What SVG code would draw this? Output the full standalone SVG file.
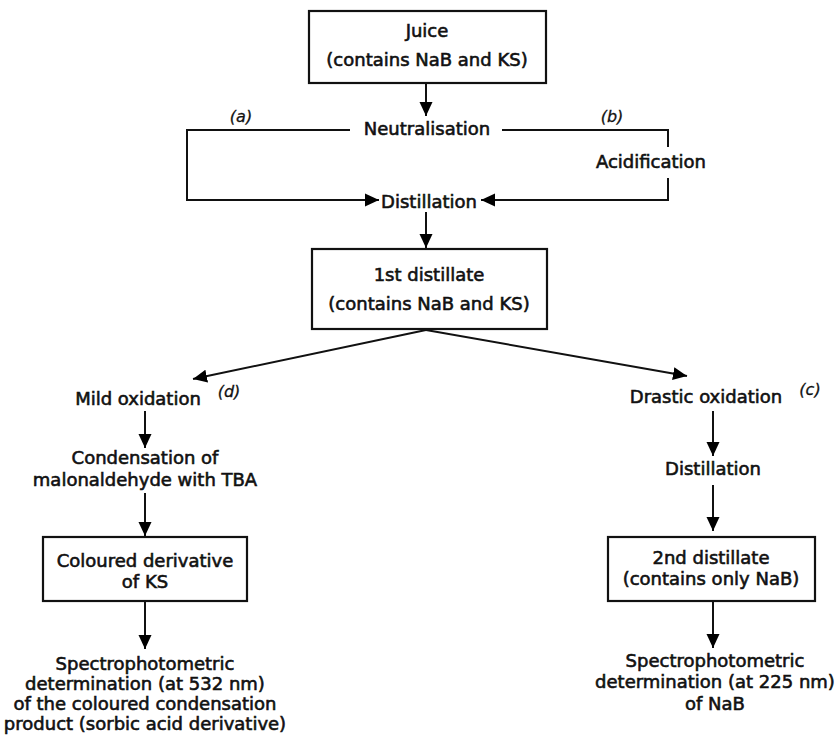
<svg xmlns="http://www.w3.org/2000/svg" width="835" height="735" viewBox="0 0 835 735">
<defs>
<marker id="ah" markerUnits="userSpaceOnUse" markerWidth="16" markerHeight="14" refX="14" refY="7" orient="auto">
<path d="M0,0.5 L14,7 L0,13.5 Z" fill="#000"/>
</marker>
<style>
.t{font-family:"DejaVu Sans",sans-serif;font-size:18px;fill:#111;stroke:#111;stroke-width:0.6;text-anchor:middle}
.lab{font-family:"DejaVu Sans",sans-serif;font-size:16px;font-style:italic;fill:#111;stroke:#111;stroke-width:0.3;text-anchor:middle}
.box{fill:#fff;stroke:#111;stroke-width:2.2}
.c{fill:none;stroke:#111;stroke-width:2}
.a{fill:none;stroke:#111;stroke-width:2;marker-end:url(#ah)}
</style>
</defs>
<rect width="835" height="735" fill="#fff"/>
<g id="connectors">
<line class="a" x1="426" y1="83" x2="426" y2="116"/>
<path class="a" d="M350,130 H187 V200 H379"/>
<path class="c" d="M502,130 H668 V147"/>
<path class="a" d="M668,178 V200 H481"/>
<line class="a" x1="426" y1="212" x2="426" y2="248"/>
<line class="a" x1="426" y1="330" x2="193" y2="379"/>
<line class="a" x1="426" y1="330" x2="687" y2="376"/>
<line class="a" x1="145" y1="411" x2="145" y2="448"/>
<line class="a" x1="145" y1="493" x2="145" y2="536"/>
<line class="a" x1="145" y1="601" x2="145" y2="649"/>
<line class="a" x1="713" y1="411" x2="713" y2="456"/>
<line class="a" x1="713" y1="485" x2="713" y2="531"/>
<line class="a" x1="713" y1="601" x2="713" y2="648"/>
</g>
<g id="juice">
<rect class="box" x="309" y="11" width="237" height="72"/>
<text class="t" x="427" y="37">Juice</text>
<text class="t" x="427" y="66">(contains NaB and KS)</text>
</g>
<g id="neutralisation"><text class="t" x="427" y="135">Neutralisation</text></g>
<g id="label-a"><text class="lab" x="241" y="122">(a)</text></g>
<g id="label-b"><text class="lab" x="612" y="122">(b)</text></g>
<g id="acidification"><text class="t" x="651" y="168">Acidification</text></g>
<g id="distillation1"><text class="t" x="429" y="208">Distillation</text></g>
<g id="first-distillate">
<rect class="box" x="312" y="249" width="235" height="80"/>
<text class="t" x="429" y="281">1st distillate</text>
<text class="t" x="429" y="310">(contains NaB and KS)</text>
</g>
<g id="mild"><text class="t" x="138" y="405">Mild oxidation</text></g>
<g id="label-d"><text class="lab" x="229" y="397">(d)</text></g>
<g id="condensation">
<text class="t" x="145" y="464">Condensation of</text>
<text class="t" x="145" y="486">malonaldehyde with TBA</text>
</g>
<g id="coloured">
<rect class="box" x="43" y="537" width="204" height="64"/>
<text class="t" x="145" y="567">Coloured derivative</text>
<text class="t" x="145" y="588">of KS</text>
</g>
<g id="spectro1">
<text class="t" x="145" y="670">Spectrophotometric</text>
<text class="t" x="145" y="690">determination (at 532 nm)</text>
<text class="t" x="145" y="710">of the coloured condensation</text>
<text class="t" x="145" y="730">product (sorbic acid derivative)</text>
</g>
<g id="drastic"><text class="t" x="706" y="403">Drastic oxidation</text></g>
<g id="label-c"><text class="lab" x="810" y="395">(c)</text></g>
<g id="distillation2"><text class="t" x="713" y="475">Distillation</text></g>
<g id="second-distillate">
<rect class="box" x="608" y="537" width="207" height="64"/>
<text class="t" x="711" y="564">2nd distillate</text>
<text class="t" x="711" y="585">(contains only NaB)</text>
</g>
<g id="spectro2">
<text class="t" x="715" y="667">Spectrophotometric</text>
<text class="t" x="715" y="688">determination (at 225 nm)</text>
<text class="t" x="715" y="710">of NaB</text>
</g>
</svg>
